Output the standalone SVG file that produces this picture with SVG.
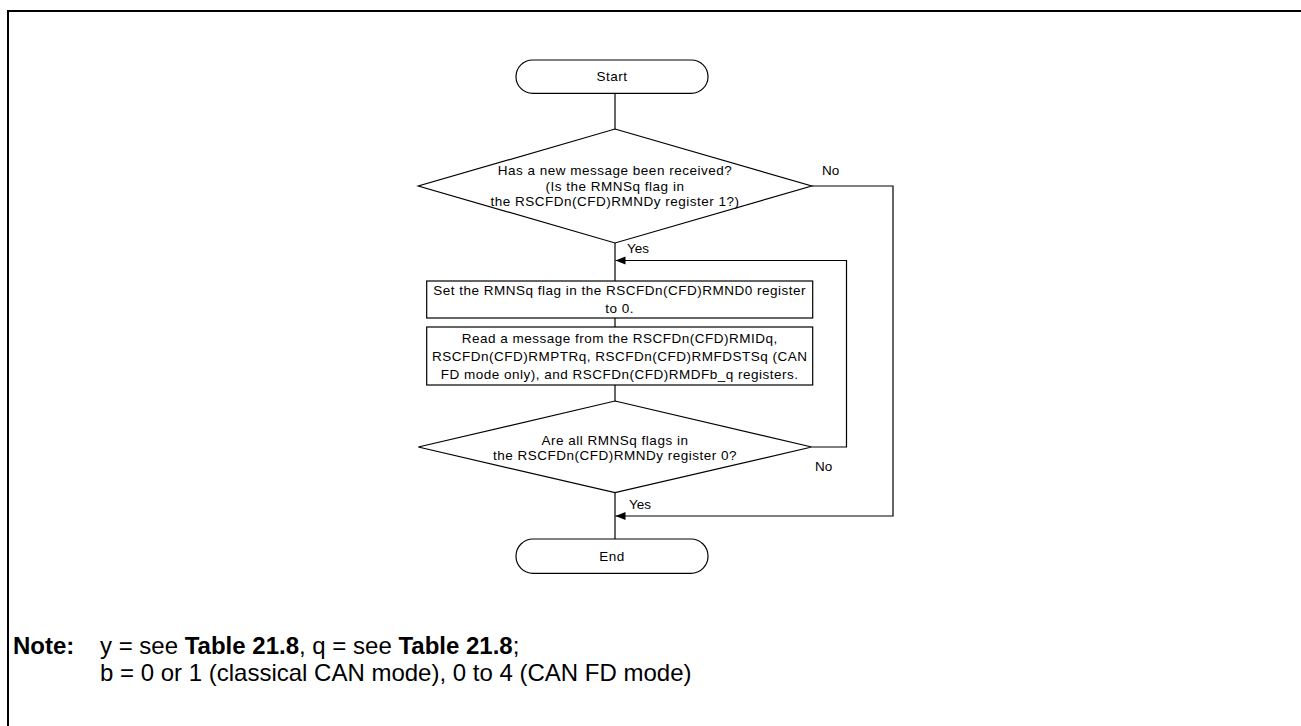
<svg xmlns="http://www.w3.org/2000/svg" width="1301" height="726" viewBox="0 0 1301 726">
<style>
.shape{fill:#fff;stroke:#000;stroke-width:1.2}
.t{font-family:"Liberation Sans",Arial,sans-serif;font-size:13.5px;fill:#000;text-anchor:middle;letter-spacing:0.5px}
.l{font-family:"Liberation Sans",Arial,sans-serif;font-size:13.5px;fill:#000}
.c{fill:none;stroke:#000;stroke-width:1.2}
.n{font-family:"Liberation Sans",Arial,sans-serif;font-size:24px;fill:#000}
</style>
<defs>
<marker id="arr" markerUnits="userSpaceOnUse" markerWidth="12" markerHeight="10" refX="10" refY="4" orient="auto">
<path d="M0,0 L10,4 L0,8 Z" fill="#000"/>
</marker>
</defs>
<rect width="1301" height="726" fill="#fff"/>
<path d="M8,726 V11 H1301" fill="none" stroke="#000" stroke-width="2"/>
<g id="connectors">
<path class="c" d="M615,93.3 V129"/>
<path class="c" d="M615,243 V281"/>
<path class="c" d="M615,318 V327"/>
<path class="c" d="M615,385 V401"/>
<path class="c" d="M615,492.7 V539"/>
<path class="c" d="M811.7,186 H893 V516 H615.5" marker-end="url(#arr)"/>
<path class="c" d="M811.7,447 H846.5 V260.5 H615.5" marker-end="url(#arr)"/>
<text class="l" x="822" y="175">No</text>
<text class="l" x="627" y="253">Yes</text>
<text class="l" x="815" y="471">No</text>
<text class="l" x="629" y="509">Yes</text>
</g>
<g id="start">
<rect class="shape" x="516" y="60" width="192" height="33.3" rx="16.6"/>
<text class="t" x="612" y="81">Start</text>
</g>
<g id="decision1">
<polygon class="shape" points="615,129 811.7,186 615,243 418.3,186"/>
<text class="t" x="615" y="175.3">Has a new message been received?</text>
<text class="t" x="615" y="190.6">(Is the RMNSq flag in</text>
<text class="t" x="615" y="206.3">the RSCFDn(CFD)RMNDy register 1?)</text>
</g>
<g id="clear">
<rect class="shape" x="426.7" y="281" width="386" height="37"/>
<text class="t" x="619.7" y="294.5">Set the RMNSq flag in the RSCFDn(CFD)RMND0 register</text>
<text class="t" x="619.7" y="312.5">to 0.</text>
</g>
<g id="read">
<rect class="shape" x="426.7" y="327" width="386" height="58"/>
<text class="t" x="619.7" y="343">Read a message from the RSCFDn(CFD)RMIDq,</text>
<text class="t" x="619.7" y="361">RSCFDn(CFD)RMPTRq, RSCFDn(CFD)RMFDSTSq (CAN</text>
<text class="t" x="619.7" y="379">FD mode only), and RSCFDn(CFD)RMDFb_q registers.</text>
</g>
<g id="decision2">
<polygon class="shape" points="615,401 811.7,447 615,492.7 418.3,447"/>
<text class="t" x="615" y="444.6">Are all RMNSq flags in</text>
<text class="t" x="615" y="459.9">the RSCFDn(CFD)RMNDy register 0?</text>
</g>
<g id="end">
<rect class="shape" x="516" y="539" width="192" height="34.3" rx="17"/>
<text class="t" x="612" y="561">End</text>
</g>
<g id="note">
<text class="n" x="13" y="654" font-weight="bold">Note:</text>
<text class="n" x="100" y="654">y = see <tspan font-weight="bold">Table 21.8</tspan>, q = see <tspan font-weight="bold">Table 21.8</tspan>;</text>
<text class="n" x="100" y="681">b = 0 or 1 (classical CAN mode), 0 to 4 (CAN FD mode)</text>
</g>
</svg>
